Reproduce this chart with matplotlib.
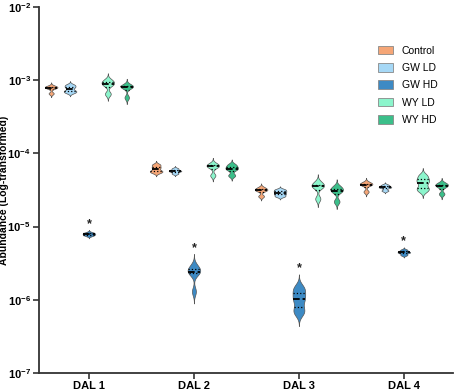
import numpy as np
import matplotlib
matplotlib.use('Agg')
import matplotlib.pyplot as plt
from matplotlib.patches import Patch

plt.rcParams['font.family'] = ['Liberation Sans', 'DejaVu Sans']
plt.rcParams['font.weight'] = 'bold'
plt.rcParams['mathtext.fontset'] = 'custom'
plt.rcParams['mathtext.rm'] = 'Liberation Sans:bold'
plt.rcParams['mathtext.bf'] = 'Liberation Sans:bold'
plt.rcParams['mathtext.default'] = 'bf'

days = ['DAL 1', 'DAL 2', 'DAL 3', 'DAL 4']
groups = ['Control', 'GW LD', 'GW HD', 'WY LD', 'WY HD']
colors = ['#F5A677', '#A6D8F6', '#3D8AC4', '#8CF5CC', '#3BBF8A']

# replicate abundances, per group, per day
control = [[8.3e-4, 8.0e-4, 7.8e-4, 6.6e-4],
           [7.0e-5, 6.4e-5, 5.8e-5, 5.5e-5],
           [3.4e-5, 3.2e-5, 3.1e-5, 2.6e-5],
           [4.0e-5, 3.8e-5, 3.7e-5, 3.0e-5]]
gw_ld = [[8.6e-4, 8.0e-4, 7.2e-4, 6.8e-4],
         [6.2e-5, 5.8e-5, 5.7e-5, 5.3e-5],
         [3.2e-5, 3.0e-5, 2.8e-5, 2.6e-5],
         [3.7e-5, 3.5e-5, 3.4e-5, 3.1e-5]]
gw_hd = [[8.3e-6, 8.0e-6, 7.8e-6, 7.5e-6],
         [2.9e-6, 2.6e-6, 2.4e-6, 2.3e-6, 1.3e-6],
         [1.5e-6, 1.3e-6, 1.1e-6, 0.95e-6, 0.75e-6, 0.65e-6],
         [4.8e-6, 4.5e-6, 4.4e-6, 4.1e-6]]
wy_ld = [[1.0e-3, 9.2e-4, 8.6e-4, 6.5e-4],
         [7.2e-5, 6.8e-5, 6.5e-5, 5.0e-5],
         [4.0e-5, 3.6e-5, 3.5e-5, 2.4e-5],
         [5.0e-5, 4.4e-5, 4.0e-5, 3.4e-5, 3.1e-5]]
wy_hd = [[8.5e-4, 8.2e-4, 8.0e-4, 5.8e-4],
         [7.0e-5, 6.4e-5, 6.0e-5, 5.0e-5],
         [3.5e-5, 3.2e-5, 3.0e-5, 2.2e-5],
         [3.9e-5, 3.7e-5, 3.5e-5, 2.8e-5]]
all_data = [control, gw_ld, gw_hd, wy_ld, wy_hd]
significant = ['GW HD']

offsets = [-0.36, -0.18, 0.0, 0.18, 0.36]
half_width = 0.06

fig = plt.figure(figsize=(4.57, 3.92), dpi=100)
ax = fig.add_axes([0.0853, 0.0485, 0.9057, 0.9337])
ax.set_yscale('log')


def draw_violin(ax, x, vals, color):
    lv = np.log10(vals)
    bw = max(0.45 * np.std(lv), 0.012)
    grid = np.linspace(lv.min() - 3 * bw, lv.max() + 3 * bw, 200)
    dens = np.exp(-0.5 * ((grid[:, None] - lv[None, :]) / bw) ** 2).sum(axis=1)
    dens = dens / dens.max() * half_width
    ax.fill_betweenx(10 ** grid, x - dens, x + dens, facecolor=color,
                     edgecolor='#555555', linewidth=0.5, zorder=2)
    q1, med, q3 = np.percentile(lv, [25, 50, 75])
    for q, ls, lw in [(q1, ':', 0.9), (med, '--', 1.3), (q3, ':', 0.9)]:
        w = np.interp(q, grid, dens)
        ax.plot([x - w, x + w], [10 ** q, 10 ** q], color='black',
                linestyle=ls, linewidth=lw, zorder=3)
    return 10 ** grid.max()


for g, (name, data, col) in enumerate(zip(groups, all_data, colors)):
    for d in range(len(days)):
        top = draw_violin(ax, d + offsets[g], data[d], col)
        if name in significant:
            ax.annotate('*', (d + offsets[g], top), xytext=(0, 0),
                        textcoords='offset points', ha='center', va='bottom',
                        fontsize=9, fontweight='bold', color='#222222')

ax.set_xlim(-0.476, 3.467)
ax.set_ylim(1e-7, 1e-2)
ax.set_xticks(range(len(days)))
ax.set_xticklabels(days, fontsize=8, fontweight='bold')
yt = [1e-7, 1e-6, 1e-5, 1e-4, 1e-3, 1e-2]
ax.set_yticks(yt)
ax.set_yticklabels([r'$10^{%d}$' % int(np.log10(v)) for v in yt], fontsize=8)
ax.minorticks_off()
ax.set_ylabel('Abundance (Log-transformed)', fontsize=7.5, fontweight='bold')
ax.yaxis.set_label_coords(-0.073, 0.5)

for s in ['top', 'right']:
    ax.spines[s].set_visible(False)
for s in ['left', 'bottom']:
    ax.spines[s].set_linewidth(1.3)
    ax.spines[s].set_color('#333333')
ax.tick_params(axis='both', width=1.2, length=4, color='#333333', pad=2)

handles = [Patch(facecolor=c, edgecolor='#888888', linewidth=0.6, label=n)
           for n, c in zip(groups, colors)]
ax.legend(handles=handles, loc='upper right', bbox_to_anchor=(0.985, 0.92),
          frameon=False, handlelength=1.5, handleheight=0.9,
          labelspacing=0.7, handletextpad=0.8,
          prop={'weight': 'normal', 'size': 7.5, 'family': 'Liberation Sans'})

fig.savefig('out.png', dpi=100)
